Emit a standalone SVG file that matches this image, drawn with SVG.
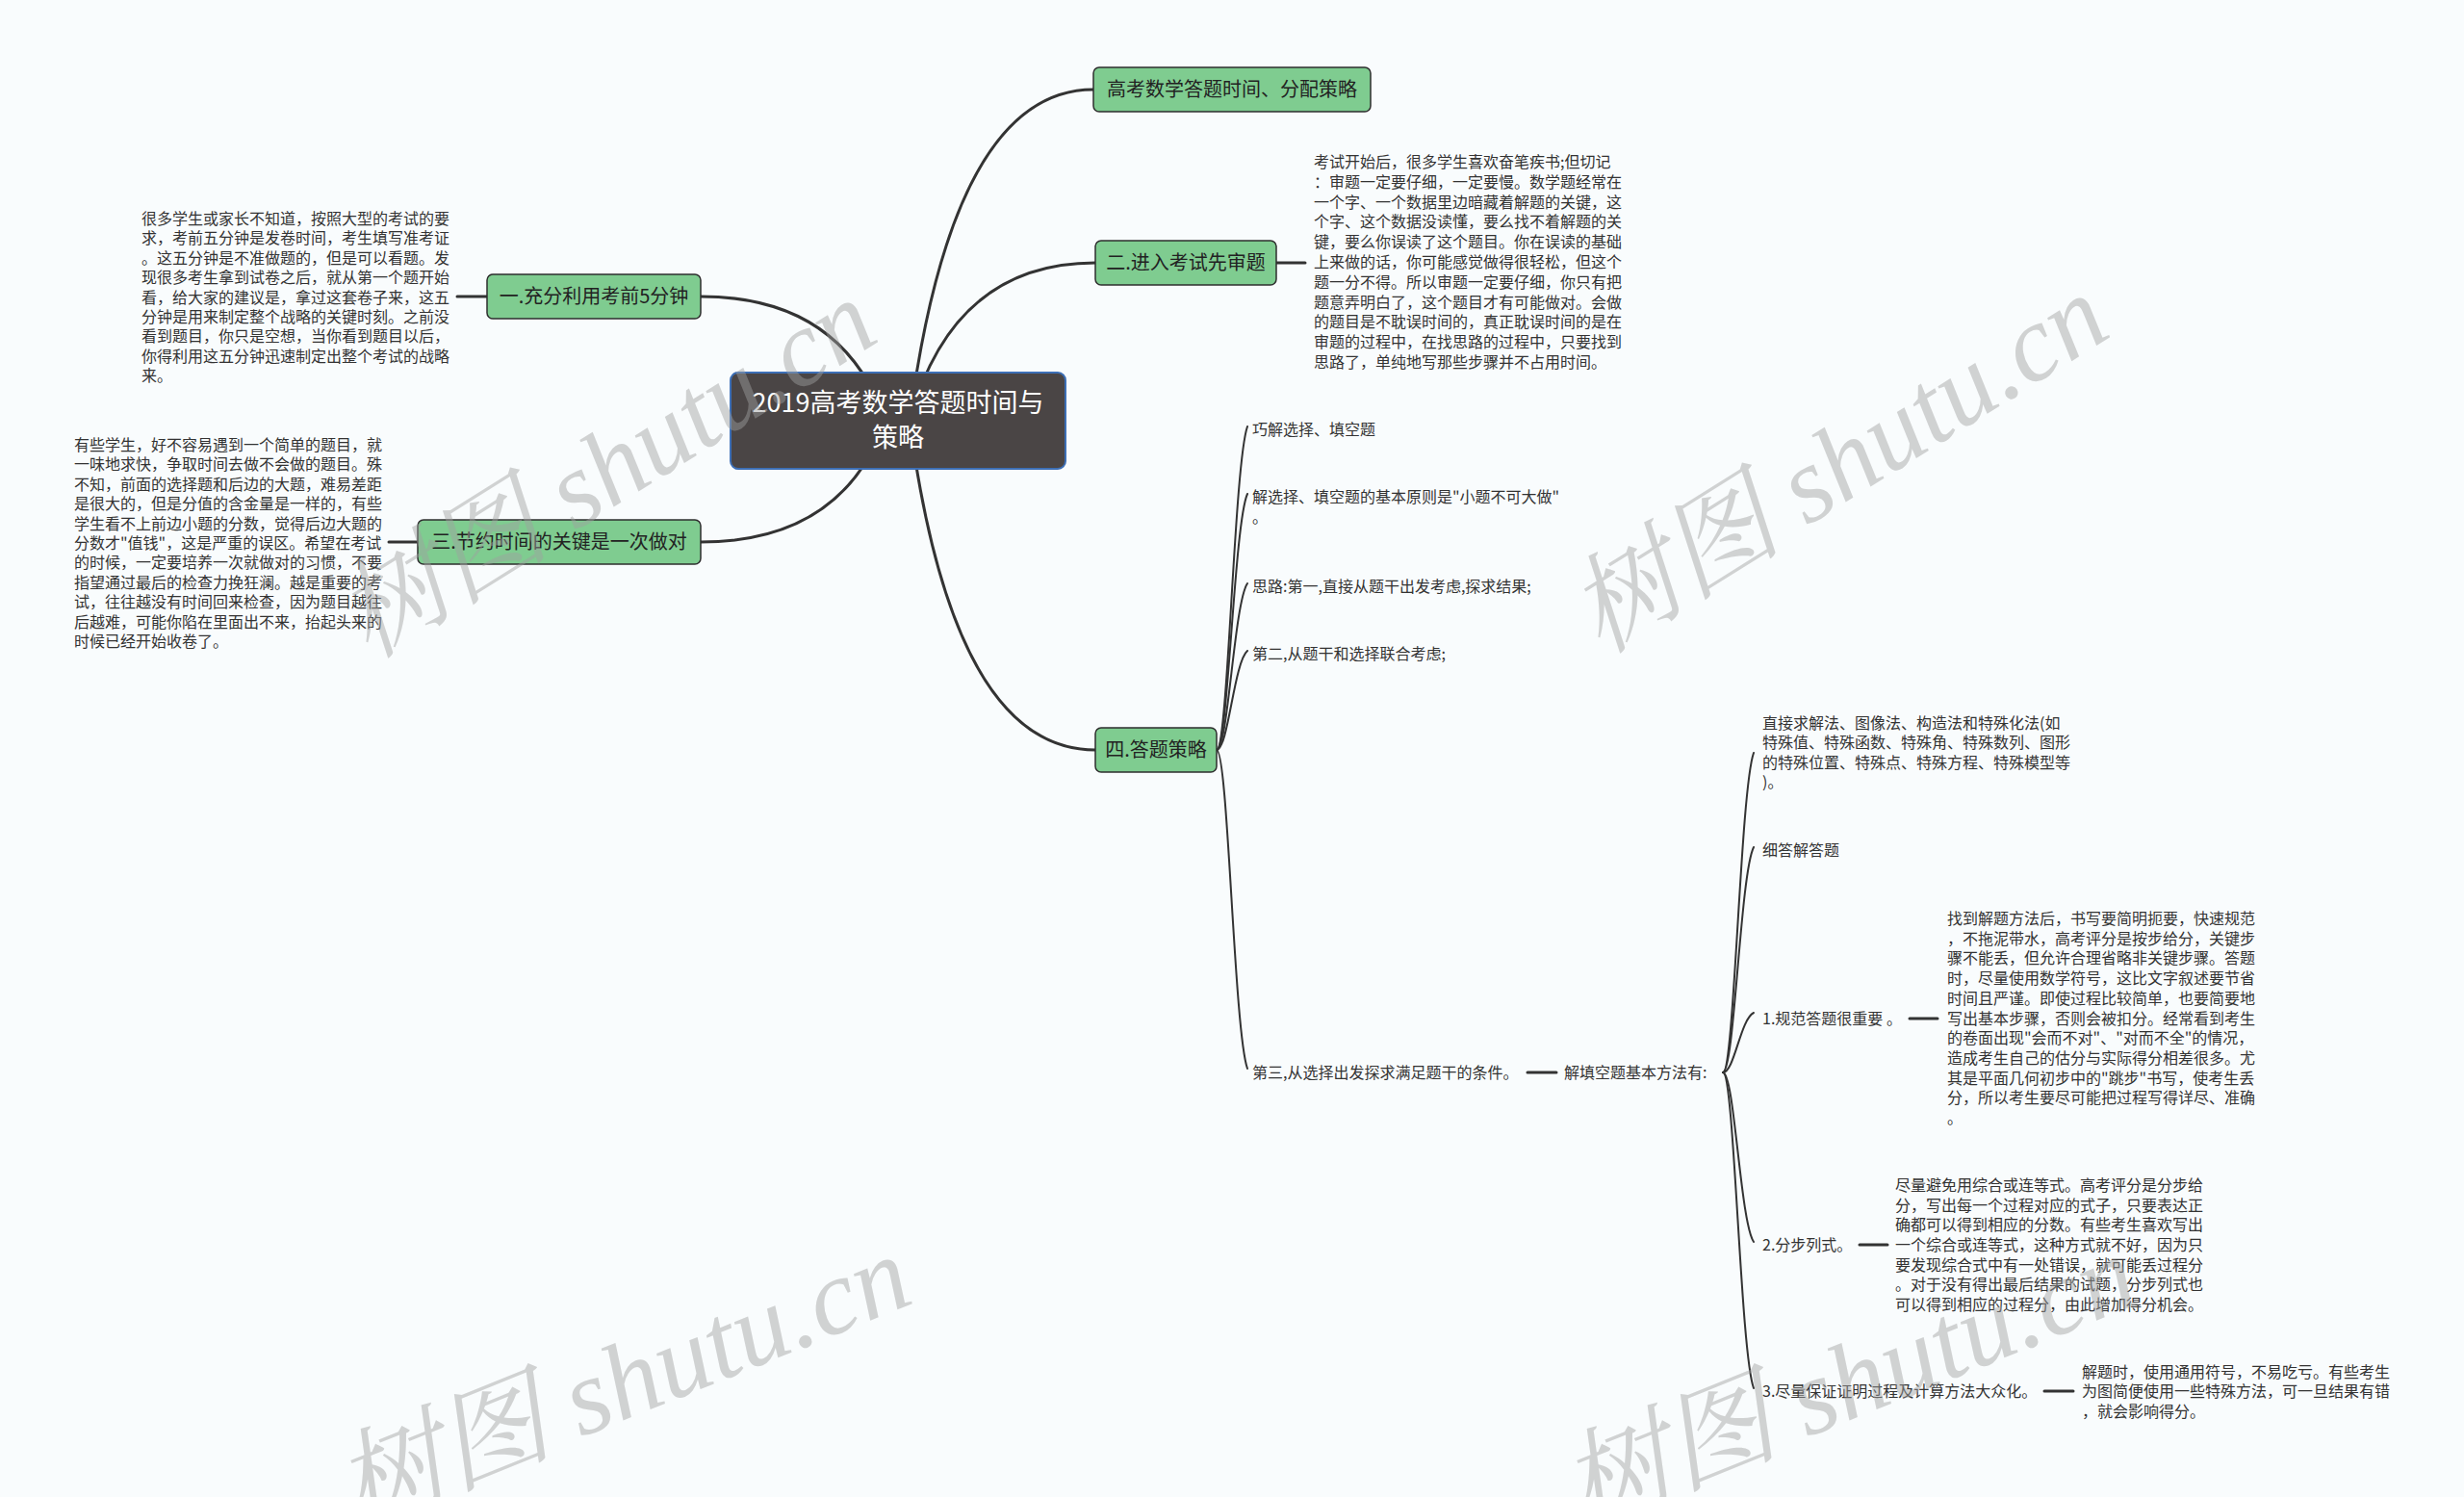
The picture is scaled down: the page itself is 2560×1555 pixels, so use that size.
<svg xmlns="http://www.w3.org/2000/svg" width="2560" height="1555" viewBox="0 0 2560 1555">
<style>
.bg{fill:#f9fcfd}
.conn{fill:none;stroke:#333333;stroke-linecap:round}
.main{stroke-width:3}
.sub{stroke-width:2}
.dash{stroke-width:3}
.node{fill:#7fcc90;stroke:#2e2e2e;stroke-width:1.5}
.root{fill:#4a4545;stroke:#3d6fb6;stroke-width:2}
.nt{font-family:"Noto Sans CJK SC","Liberation Sans",sans-serif;font-size:20px;fill:#222;text-anchor:middle}
.rt{font-family:"Noto Sans CJK SC","Liberation Sans",sans-serif;font-size:27px;fill:#ffffff;text-anchor:middle}
.t{font-family:"Noto Sans CJK SC","Liberation Sans",sans-serif;font-size:16px;fill:#333}
.wm{font-family:"Liberation Serif","Noto Serif CJK SC","Noto Sans CJK SC",serif;font-size:112px;font-style:italic;fill:#a0a0a0;opacity:0.45}
</style>
<rect class="bg" x="0" y="0" width="2560" height="1555"/>
<g id="connectors">
<path class="conn main" d="M945 437 Q990 93 1136 93"/>
<path class="conn main" d="M945 437 Q990 273 1138 273"/>
<path class="conn main" d="M945 437 Q990 779 1138 779"/>
<path class="conn main" d="M920 437 Q875 308 728 308"/>
<path class="conn main" d="M920 437 Q875 563 728 563"/>
<path class="conn dash" d="M475 308 H506"/>
<path class="conn dash" d="M404 563 H434"/>
<path class="conn dash" d="M1326 273 H1356"/>
<path class="conn sub" d="M1264 779 C1276 779 1282 483 1296 443"/>
<path class="conn sub" d="M1264 779 C1276 779 1282 545 1296 513"/>
<path class="conn sub" d="M1264 779 C1276 779 1282 627 1296 606"/>
<path class="conn sub" d="M1264 779 C1276 779 1282 688 1296 676"/>
<path class="conn sub" d="M1264 779 C1276 779 1282 1070 1296 1110"/>
<path class="conn dash" d="M1587 1114 H1617"/>
<path class="conn sub" d="M1790 1114 C1802 1114 1808 822 1822 782"/>
<path class="conn sub" d="M1790 1114 C1802 1114 1808 908 1822 880"/>
<path class="conn sub" d="M1790 1114 C1802 1114 1808 1059 1822 1052"/>
<path class="conn sub" d="M1790 1114 C1802 1114 1808 1269 1822 1290"/>
<path class="conn sub" d="M1790 1114 C1802 1114 1808 1403 1822 1442"/>
<path class="conn dash" d="M1984 1058 H2013"/>
<path class="conn dash" d="M1932 1293 H1961"/>
<path class="conn dash" d="M2124 1445 H2154"/>
</g>
<g id="root">
<rect class="root" x="759" y="387" width="348" height="100" rx="8"/>
<text class="rt" x="933" y="428">2019高考数学答题时间与</text>
<text class="rt" x="933" y="464">策略</text>
</g>
<g id="node-a">
<rect class="node" x="1136" y="70" width="288" height="46" rx="6"/>
<text class="nt" x="1280" y="100">高考数学答题时间、分配策略</text>
</g>
<g id="node-b">
<rect class="node" x="1138" y="250" width="188" height="46" rx="6"/>
<text class="nt" x="1232" y="280">二.进入考试先审题</text>
</g>
<g id="text-b">
<text class="t" x="1365" y="174">考试开始后，很多学生喜欢奋笔疾书;但切记</text>
<text class="t" x="1365" y="195">：审题一定要仔细，一定要慢。数学题经常在</text>
<text class="t" x="1365" y="216">一个字、一个数据里边暗藏着解题的关键，这</text>
<text class="t" x="1365" y="236">个字、这个数据没读懂，要么找不着解题的关</text>
<text class="t" x="1365" y="257">键，要么你误读了这个题目。你在误读的基础</text>
<text class="t" x="1365" y="278">上来做的话，你可能感觉做得很轻松，但这个</text>
<text class="t" x="1365" y="299">题一分不得。所以审题一定要仔细，你只有把</text>
<text class="t" x="1365" y="320">题意弄明白了，这个题目才有可能做对。会做</text>
<text class="t" x="1365" y="340">的题目是不耽误时间的，真正耽误时间的是在</text>
<text class="t" x="1365" y="361">审题的过程中，在找思路的过程中，只要找到</text>
<text class="t" x="1365" y="382">思路了，单纯地写那些步骤并不占用时间。</text>
</g>
<g id="node-c">
<rect class="node" x="506" y="285" width="222" height="46" rx="6"/>
<text class="nt" x="617" y="315">一.充分利用考前5分钟</text>
</g>
<g id="text-c">
<text class="t" x="147" y="233">很多学生或家长不知道，按照大型的考试的要</text>
<text class="t" x="147" y="253">求，考前五分钟是发卷时间，考生填写准考证</text>
<text class="t" x="147" y="274">。这五分钟是不准做题的，但是可以看题。发</text>
<text class="t" x="147" y="294">现很多考生拿到试卷之后，就从第一个题开始</text>
<text class="t" x="147" y="315">看，给大家的建议是，拿过这套卷子来，这五</text>
<text class="t" x="147" y="335">分钟是用来制定整个战略的关键时刻。之前没</text>
<text class="t" x="147" y="355">看到题目，你只是空想，当你看到题目以后，</text>
<text class="t" x="147" y="376">你得利用这五分钟迅速制定出整个考试的战略</text>
<text class="t" x="147" y="396">来。</text>
</g>
<g id="node-d">
<rect class="node" x="434" y="540" width="294" height="46" rx="6"/>
<text class="nt" x="581" y="570">三.节约时间的关键是一次做对</text>
</g>
<g id="text-d">
<text class="t" x="77" y="468">有些学生，好不容易遇到一个简单的题目，就</text>
<text class="t" x="77" y="488">一味地求快，争取时间去做不会做的题目。殊</text>
<text class="t" x="77" y="509">不知，前面的选择题和后边的大题，难易差距</text>
<text class="t" x="77" y="529">是很大的，但是分值的含金量是一样的，有些</text>
<text class="t" x="77" y="550">学生看不上前边小题的分数，觉得后边大题的</text>
<text class="t" x="77" y="570">分数才"值钱"，这是严重的误区。希望在考试</text>
<text class="t" x="77" y="590">的时候，一定要培养一次就做对的习惯，不要</text>
<text class="t" x="77" y="611">指望通过最后的检查力挽狂澜。越是重要的考</text>
<text class="t" x="77" y="631">试，往往越没有时间回来检查，因为题目越往</text>
<text class="t" x="77" y="652">后越难，可能你陷在里面出不来，抬起头来的</text>
<text class="t" x="77" y="672">时候已经开始收卷了。</text>
</g>
<g id="node-e">
<rect class="node" x="1138" y="756" width="126" height="46" rx="6"/>
<text class="nt" x="1201" y="786">四.答题策略</text>
</g>
<g id="e1"><text class="t" x="1301" y="452">巧解选择、填空题</text></g>
<g id="e2">
<text class="t" x="1301" y="522">解选择、填空题的基本原则是"小题不可大做"</text>
<text class="t" x="1301" y="543">。</text>
</g>
<g id="e3"><text class="t" x="1301" y="615">思路:第一,直接从题干出发考虑,探求结果;</text></g>
<g id="e4"><text class="t" x="1301" y="685">第二,从题干和选择联合考虑;</text></g>
<g id="e5"><text class="t" x="1301" y="1120">第三,从选择出发探求满足题干的条件。</text></g>
<g id="e5-1"><text class="t" x="1625" y="1120">解填空题基本方法有:</text></g>
<g id="m-a">
<text class="t" x="1831" y="757">直接求解法、图像法、构造法和特殊化法(如</text>
<text class="t" x="1831" y="777">特殊值、特殊函数、特殊角、特殊数列、图形</text>
<text class="t" x="1831" y="798">的特殊位置、特殊点、特殊方程、特殊模型等</text>
<text class="t" x="1831" y="818">)。</text>
</g>
<g id="m-b"><text class="t" x="1831" y="889">细答解答题</text></g>
<g id="m-c"><text class="t" x="1831" y="1064">1.规范答题很重要 。</text></g>
<g id="m-c-detail">
<text class="t" x="2023" y="960">找到解题方法后，书写要简明扼要，快速规范</text>
<text class="t" x="2023" y="981">，不拖泥带水，高考评分是按步给分，关键步</text>
<text class="t" x="2023" y="1001">骤不能丢，但允许合理省略非关键步骤。答题</text>
<text class="t" x="2023" y="1022">时，尽量使用数学符号，这比文字叙述要节省</text>
<text class="t" x="2023" y="1043">时间且严谨。即使过程比较简单，也要简要地</text>
<text class="t" x="2023" y="1064">写出基本步骤，否则会被扣分。经常看到考生</text>
<text class="t" x="2023" y="1084">的卷面出现"会而不对"、"对而不全"的情况，</text>
<text class="t" x="2023" y="1105">造成考生自己的估分与实际得分相差很多。尤</text>
<text class="t" x="2023" y="1126">其是平面几何初步中的"跳步"书写，使考生丢</text>
<text class="t" x="2023" y="1146">分，所以考生要尽可能把过程写得详尽、准确</text>
<text class="t" x="2023" y="1167">。</text>
</g>
<g id="m-d"><text class="t" x="1831" y="1299">2.分步列式。</text></g>
<g id="m-d-detail">
<text class="t" x="1969" y="1237">尽量避免用综合或连等式。高考评分是分步给</text>
<text class="t" x="1969" y="1258">分，写出每一个过程对应的式子，只要表达正</text>
<text class="t" x="1969" y="1278">确都可以得到相应的分数。有些考生喜欢写出</text>
<text class="t" x="1969" y="1299">一个综合或连等式，这种方式就不好，因为只</text>
<text class="t" x="1969" y="1320">要发现综合式中有一处错误，就可能丢过程分</text>
<text class="t" x="1969" y="1340">。对于没有得出最后结果的试题，分步列式也</text>
<text class="t" x="1969" y="1361">可以得到相应的过程分，由此增加得分机会。</text>
</g>
<g id="m-e"><text class="t" x="1831" y="1451">3.尽量保证证明过程及计算方法大众化。</text></g>
<g id="m-e-detail">
<text class="t" x="2163" y="1431">解题时，使用通用符号，不易吃亏。有些考生</text>
<text class="t" x="2163" y="1451">为图简便使用一些特殊方法，可一旦结果有错</text>
<text class="t" x="2163" y="1472">，就会影响得分。</text>
</g>
<g id="watermarks">
<text class="wm" x="650" y="519" text-anchor="middle" transform="rotate(-32 650 519)">树图 shutu.cn</text>
<text class="wm" x="1930" y="514" text-anchor="middle" transform="rotate(-32 1930 514)">树图 shutu.cn</text>
<text class="wm" x="661" y="1470" text-anchor="middle" transform="rotate(-22 661 1470)">树图 shutu.cn</text>
<text class="wm" x="1935" y="1470" text-anchor="middle" transform="rotate(-22 1935 1470)">树图 shutu.cn</text>
</g>
</svg>
